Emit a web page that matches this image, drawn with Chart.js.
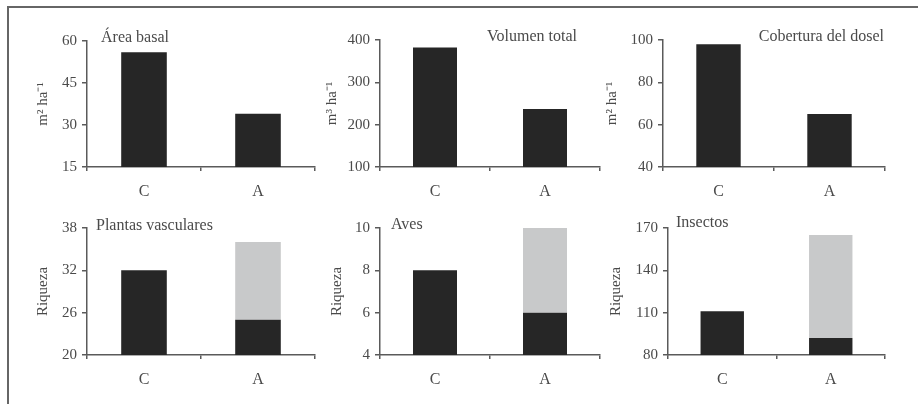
<!DOCTYPE html>
<html>
<head>
<meta charset="utf-8">
<script src="https://cdn.jsdelivr.net/npm/chart.js@4.4.1/dist/chart.umd.min.js"></script>
<style>
  html, body { margin: 0; padding: 0; background: #fff; }
  body { width: 918px; height: 404px; position: relative; overflow: hidden; }
  #frame { position: absolute; left: 7px; top: 6px; width: 920px; height: 410px;
           border-top: 2px solid #666; border-left: 2px solid #666; }
  .panel { position: absolute; }
</style>
</head>
<body>
<div id="frame"></div>

<script>
// Categories
const categories = ['C', 'A'];

// Top row: structure (one series each)
const areaBasal = [56, 34];
const volumenTotal = [382, 237];
const coberturaDosel = [98, 65];

// Bottom row: richness, black = shared part, grey = extra in A
const plantasBase = [32, 25];
const plantasExtra = [0, 11];
const avesBase = [8, 6];
const avesExtra = [0, 4];
const insectosBase = [111, 92];
const insectosExtra = [0, 73];

// Axis ranges / ticks
const areaTicks = [15, 60, 15];
const volTicks = [100, 400, 100];
const cobTicks = [40, 100, 20];
const plantasTicks = [20, 38, 6];
const avesTicks = [4, 10, 2];
const insectosTicks = [80, 170, 30];

const DARK = '#262626';
const GREY = '#c8c9ca';
const AXIS = '#5a5a5a';
const TEXT = '#4a4a4a';
const FONT = "'Liberation Serif', 'Times New Roman', serif";

const YW = 64;  // room left of plot area
const TOPPAD = 25;
const XH = 40;
const RPAD = 8;

// label drawn inside/above each plot area
const panelLabel = {
    id: 'panelLabel',
    afterDraw(chart, args, opts) {
        const a = chart.chartArea;
        const c = chart.ctx;
        c.save();
        c.font = '16px ' + FONT;
        c.fillStyle = TEXT;
        c.textBaseline = 'middle';
        c.textAlign = opts.align;
        const x = opts.align === 'left' ? a.left + opts.dx : a.right - opts.dx;
        c.fillText(opts.text, x, a.top + opts.dy);
        c.restore();
    }
};

function makePanel(box, datasets, ticks, yTitle, titlePad, label) {
    const div = document.createElement('div');
    div.className = 'panel';
    const w = box.right - box.left + YW + RPAD;
    const h = box.bottom - box.top + TOPPAD + XH;
    div.style.left = (box.left - YW) + 'px';
    div.style.top = (box.top - TOPPAD) + 'px';
    div.style.width = w + 'px';
    div.style.height = h + 'px';
    const cv = document.createElement('canvas');
    div.appendChild(cv);
    document.body.appendChild(div);

    new Chart(cv, {
        type: 'bar',
        data: { labels: categories, datasets: datasets },
        plugins: [panelLabel],
        options: {
            responsive: true,
            maintainAspectRatio: false,
            animation: false,
            layout: { padding: { left: 0, top: TOPPAD, right: RPAD, bottom: 0 } },
            plugins: {
                legend: { display: false },
                tooltip: { enabled: false },
                panelLabel: label
            },
            scales: {
                x: {
                    stacked: true,
                    offset: true,
                    afterFit: (s) => { s.height = XH; },
                    grid: { offset: true, drawOnChartArea: false, drawTicks: true, tickLength: 4,
                            color: AXIS, lineWidth: 1.5 },
                    border: { display: true, color: AXIS, width: 1.5 },
                    ticks: { color: TEXT, padding: 11, font: { family: FONT, size: 16 } }
                },
                y: {
                    stacked: true,
                    min: ticks[0],
                    max: ticks[1],
                    afterFit: (s) => { s.width = YW; },
                    grid: { drawOnChartArea: false, drawTicks: true, tickLength: 5,
                            color: AXIS, lineWidth: 1.5 },
                    border: { display: true, color: AXIS, width: 1.5 },
                    ticks: { stepSize: ticks[2], color: TEXT, padding: 5,
                             font: { family: FONT, size: 15 } },
                    title: { display: true, text: yTitle, color: TEXT,
                             padding: { top: titlePad, bottom: 0 },
                             font: { family: FONT, size: 15 } }
                }
            }
        }
    });
}

function bars(values, color) {
    return { data: values, backgroundColor: color, barPercentage: 0.4,
             categoryPercentage: 1, clip: 0 };
}

makePanel({ left: 87, right: 315, top: 41, bottom: 167 },
    [bars(areaBasal, DARK)], areaTicks, 'm² ha⁻¹', 11,
    { text: 'Área basal', align: 'left', dx: 14, dy: -3 });

makePanel({ left: 380, right: 600, top: 40, bottom: 167 },
    [bars(volumenTotal, DARK)], volTicks, 'm³ ha⁻¹', 7,
    { text: 'Volumen total', align: 'right', dx: 23, dy: -3 });

makePanel({ left: 663, right: 885, top: 40, bottom: 167 },
    [bars(coberturaDosel, DARK)], cobTicks, 'm² ha⁻¹', 4,
    { text: 'Cobertura del dosel', align: 'right', dx: 1, dy: -3 });

makePanel({ left: 87, right: 315, top: 228, bottom: 355 },
    [bars(plantasBase, DARK), bars(plantasExtra, GREY)], plantasTicks, 'Riqueza', 11,
    { text: 'Plantas vasculares', align: 'left', dx: 9, dy: -2 });

makePanel({ left: 380, right: 600, top: 228, bottom: 355 },
    [bars(avesBase, DARK), bars(avesExtra, GREY)], avesTicks, 'Riqueza', 12,
    { text: 'Aves', align: 'left', dx: 11, dy: -3 });

makePanel({ left: 668, right: 885, top: 228, bottom: 355 },
    [bars(insectosBase, DARK), bars(insectosExtra, GREY)], insectosTicks, 'Riqueza', 3,
    { text: 'Insectos', align: 'left', dx: 8, dy: -5 });
</script>
</body>
</html>
